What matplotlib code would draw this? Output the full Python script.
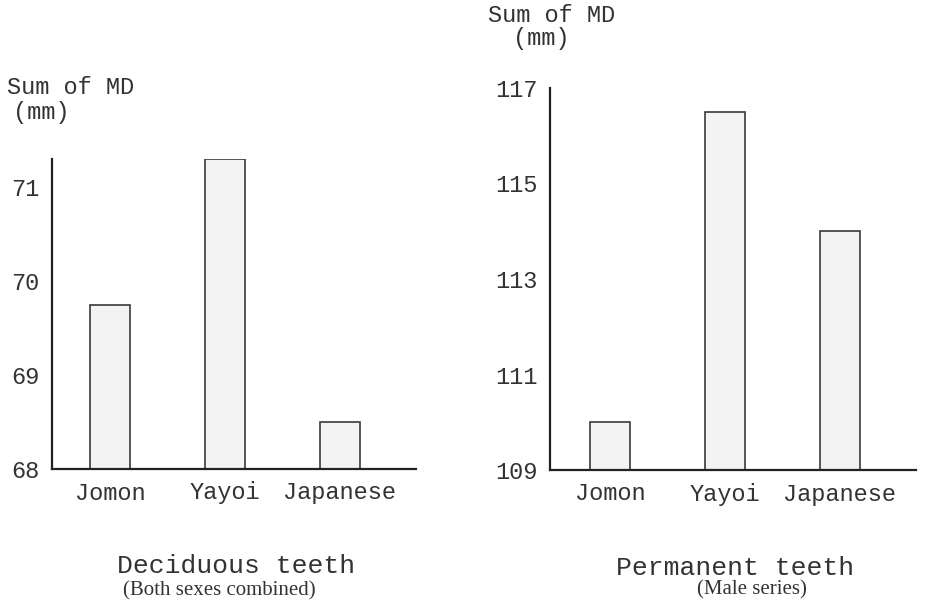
import matplotlib.pyplot as plt

groups = ["Jomon", "Yayoi", "Japanese"]
deciduous = [69.75, 71.3, 68.5]
permanent = [110.0, 116.5, 114.0]
dec_ticks = [68, 69, 70, 71]
perm_ticks = [109, 111, 113, 115, 117]

W, H = 952, 603
mono = "Liberation Mono"
serif = "Liberation Serif"
ink = "#333333"

fig = plt.figure(figsize=(W / 100, H / 100), dpi=100)


def px_axes(x0, y0, x1, y1):
    # pixel box (top-left origin) -> figure fraction axes
    return fig.add_axes([x0 / W, 1 - y1 / H, (x1 - x0) / W, (y1 - y0) / H])


def draw(ax, vals, ylim, ticks, xlim):
    x = range(len(groups))
    ax.bar(x, vals, width=0.34, bottom=0, color="#f3f3f3",
           edgecolor="#3a3a3a", linewidth=1.2)
    ax.set_ylim(*ylim)
    ax.set_xlim(*xlim)
    ax.set_yticks(ticks)
    ax.set_yticklabels([str(t) for t in ticks], fontfamily=mono, fontsize=17)
    ax.set_xticks(list(x))
    ax.set_xticklabels(groups, fontfamily=mono, fontsize=17)
    ax.tick_params(length=0, pad=9, colors=ink)
    for s in ["top", "right"]:
        ax.spines[s].set_visible(False)
    for s in ["left", "bottom"]:
        ax.spines[s].set_linewidth(1.6)
        ax.spines[s].set_color("#222222")


ax1 = px_axes(52, 159, 416, 469)
draw(ax1, deciduous, (68, 71.3), dec_ticks, (-0.504, 2.661))
ax2 = px_axes(550, 88, 916, 470)
draw(ax2, permanent, (109, 117), perm_ticks, (-0.522, 2.661))


def ftext(x, y, s, **kw):
    fig.text(x / W, 1 - y / H, s, va="center", color=ink, **kw)


ftext(7, 87, "Sum of MD", ha="left", fontfamily=mono, fontsize=17)
ftext(13, 112, "(mm)", ha="left", fontfamily=mono, fontsize=17)
ftext(488, 15, "Sum of MD", ha="left", fontfamily=mono, fontsize=17)
ftext(513, 38, "(mm)", ha="left", fontfamily=mono, fontsize=17)

ftext(236, 566, "Deciduous teeth", ha="center", fontfamily=mono, fontsize=19)
ftext(219, 591, "(Both sexes combined)", ha="center", fontfamily=serif, fontsize=15)
ftext(735, 568, "Permanent teeth", ha="center", fontfamily=mono, fontsize=19)
ftext(752, 590, "(Male series)", ha="center", fontfamily=serif, fontsize=15)

fig.savefig("out.png", dpi=100, facecolor="white")
